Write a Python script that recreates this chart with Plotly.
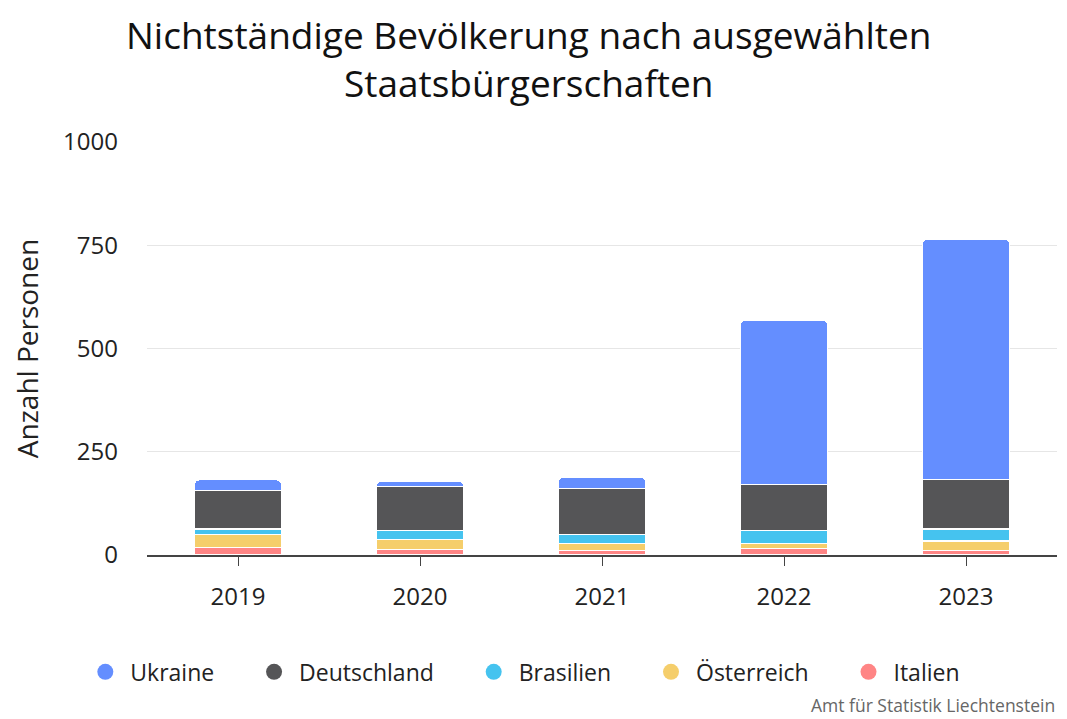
import plotly.graph_objects as go

years = ["2019", "2020", "2021", "2022", "2023"]
italien = [19, 14, 10, 15, 10]
oesterreich = [31, 23, 17, 12, 24]
brasilien = [13, 22, 23, 32, 29]
deutschland = [93, 107, 111, 111, 119]
ukraine = [26, 12, 28, 398, 582]

series = [
    ("Italien", italien, "#FF8585"),
    ("Österreich", oesterreich, "#F5CE6B"),
    ("Brasilien", brasilien, "#45C3EF"),
    ("Deutschland", deutschland, "#555557"),
    ("Ukraine", ukraine, "#648EFF"),
]
legend_order = ["Ukraine", "Deutschland", "Brasilien", "Österreich", "Italien"]
title_text = "Nichtständige Bevölkerung nach ausgewählten<br>Staatsbürgerschaften"

FONT = "Open Sans, Noto Sans, sans-serif"
PAD = "\u00a0" * 5
fig = go.Figure()
for name, vals, col in series:
    fig.add_trace(go.Bar(x=years, y=vals, name=name, marker_color=col,
                         marker_line_color="white", marker_line_width=1.2,
                         showlegend=False))
colors = {n: c for n, _, c in series}
for i, name in enumerate(legend_order):
    label = name + (PAD if i < len(legend_order) - 1 else "")
    fig.add_trace(go.Scatter(x=[None], y=[None], mode="markers", name=label,
                             marker=dict(symbol="circle", size=25, color=colors[name])))

fig.update_layout(
    barmode="stack", bargap=0.52, barcornerradius=5,
    width=1059, height=711,
    paper_bgcolor="white", plot_bgcolor="white",
    margin=dict(l=139, r=10, t=134, b=164, autoexpand=False),
    font=dict(family=FONT, color="#222222"),
    legend=dict(orientation="h", x=0.413, xanchor="center", y=-0.283, yanchor="middle",
                font=dict(size=23, color="#222222"), itemsizing="trace", itemwidth=40,
                traceorder="normal"),
    annotations=[
        dict(text=title_text, xref="paper", yref="paper", x=0.419, xanchor="center",
             y=1.203, yanchor="middle", showarrow=False, align="center",
             font=dict(size=37, color="#111111", family=FONT)),
        dict(text="Amt für Statistik Liechtenstein", xref="paper", yref="paper",
             x=1.0, xanchor="right", y=-0.364, yanchor="middle", showarrow=False,
             font=dict(size=17.5, color="#666666")),
    ],
)
fig.update_xaxes(showline=True, linecolor="#444444", linewidth=1.5,
                 ticks="outside", ticklen=9, tickcolor="#444444", ticklabelstandoff=10,
                 tickfont=dict(size=24, color="#222222"), showgrid=False)
fig.update_yaxes(range=[0, 1000], tickvals=[0, 250, 500, 750, 1000],
                 showgrid=True, gridcolor="#e6e6e6", zeroline=False,
                 tickfont=dict(size=24, color="#222222"), ticklabelstandoff=28,
                 title=dict(text="Anzahl Personen", font=dict(size=28, color="#222222"),
                            standoff=24))
fig.write_html("out.html")
